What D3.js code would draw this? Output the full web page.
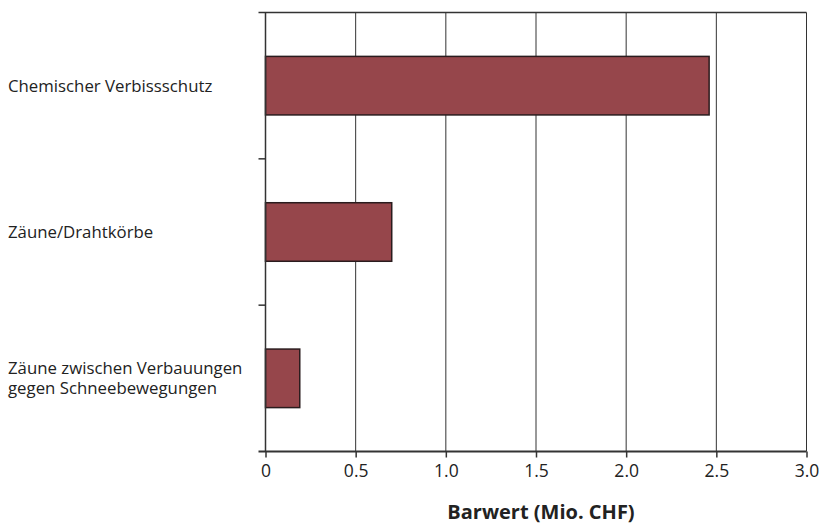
<!DOCTYPE html>
<html>
<head>
<meta charset="utf-8">
<script src="https://cdn.jsdelivr.net/npm/d3@7"></script>
<style>
  body { margin: 0; background: #fff; }
  text { font-family: "Open Sans", "Noto Sans", sans-serif; fill: #222; }
</style>
</head>
<body>
<svg id="chart" width="822" height="524"></svg>
<script>
const categories = [
  ['Chemischer Verbissschutz'],
  ['Zäune/Drahtkörbe'],
  ['Zäune zwischen Verbauungen', 'gegen Schneebewegungen']
];
const values = [2.46, 0.70, 0.19];
const xTicks = [0, 0.5, 1.0, 1.5, 2.0, 2.5, 3.0];
const xTickLabels = ['0', '0.5', '1.0', '1.5', '2.0', '2.5', '3.0'];

const svg = d3.select('#chart');
const plotLeft = 265.5, plotRight = 806.5, plotTop = 12.5, plotBottom = 451.5;

const x = d3.scaleLinear().domain([0, 3]).range([plotLeft, plotRight]);
const y = d3.scaleBand()
  .domain(categories.map((d, i) => i))
  .range([plotTop, plotBottom])
  .paddingInner(0.6)
  .paddingOuter(0.3);

// gridlines
svg.append('g')
  .selectAll('line')
  .data(xTicks.slice(1))
  .enter()
  .append('line')
  .attr('x1', d => x(d)).attr('x2', d => x(d))
  .attr('y1', plotTop).attr('y2', plotBottom)
  .attr('stroke', '#333')
  .attr('stroke-width', 1);

// top border
svg.append('line')
  .attr('x1', plotLeft - 7).attr('x2', plotRight)
  .attr('y1', plotTop).attr('y2', plotTop)
  .attr('stroke', '#333').attr('stroke-width', 1.5);

// bars
svg.append('g')
  .selectAll('rect')
  .data(values)
  .enter()
  .append('rect')
  .attr('x', x(0))
  .attr('y', (d, i) => y(i))
  .attr('width', d => x(d) - x(0))
  .attr('height', y.bandwidth())
  .attr('fill', '#96464b')
  .attr('stroke', '#2a1c1e')
  .attr('stroke-width', 1.5);

// y axis with separators between categories
const sepTicks = [1, 2].map(i => y(i) - y.step() * y.paddingInner() / 2);
svg.append('line')
  .attr('x1', plotLeft).attr('x2', plotLeft)
  .attr('y1', plotTop).attr('y2', plotBottom)
  .attr('stroke', '#333').attr('stroke-width', 1.5);
svg.append('g')
  .selectAll('line')
  .data(sepTicks)
  .enter()
  .append('line')
  .attr('x1', plotLeft - 7).attr('x2', plotLeft)
  .attr('y1', d => d).attr('y2', d => d)
  .attr('stroke', '#333').attr('stroke-width', 1.5);

// x axis
const xAxis = d3.axisBottom(x)
  .tickValues(xTicks)
  .tickFormat((d, i) => xTickLabels[i])
  .tickSize(6)
  .tickSizeOuter(0);
const gx = svg.append('g')
  .attr('transform', `translate(0,${plotBottom})`)
  .call(xAxis);
gx.select('.domain').attr('stroke', '#333').attr('stroke-width', 2)
  .attr('d', `M${plotLeft - 7},0H${plotRight}`);
gx.selectAll('.tick line').attr('stroke', '#333').attr('stroke-width', 1.5);
gx.selectAll('.tick text')
  .attr('y', 13)
  .attr('font-size', 17.5)
  .attr('fill', '#222')
  .style('font-family', '"Open Sans", "Noto Sans", sans-serif');

// category labels
const labels = svg.append('g')
  .selectAll('text')
  .data(categories)
  .enter()
  .append('text')
  .attr('x', 8)
  .attr('y', (d, i) => y(i) + y.bandwidth() / 2)
  .attr('font-size', 16.8);
labels.each(function(lines) {
  const t = d3.select(this);
  const n = lines.length;
  lines.forEach((line, j) => {
    t.append('tspan')
      .attr('x', 8)
      .attr('dy', j === 0 ? ((-(n - 1) * 20) / 2 + 6) : 20)
      .text(line);
  });
});

// axis title
svg.append('text')
  .attr('x', 541)
  .attr('y', 519)
  .attr('text-anchor', 'middle')
  .attr('font-size', 20)
  .attr('font-weight', 'bold')
  .text('Barwert (Mio. CHF)');
</script>
</body>
</html>
